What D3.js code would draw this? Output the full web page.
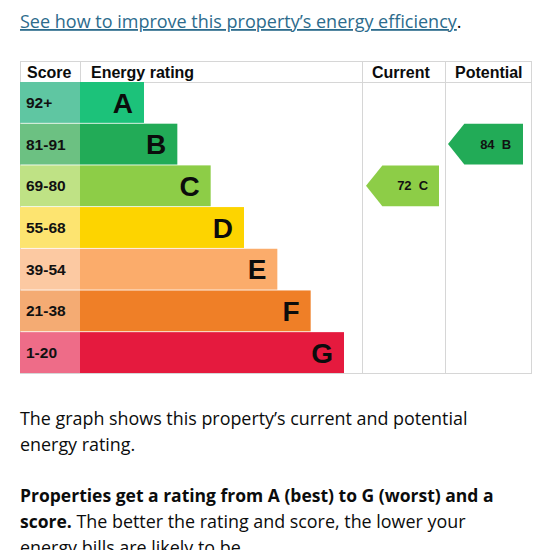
<!DOCTYPE html>
<html>
<head>
<meta charset="utf-8">
<script src="https://cdn.jsdelivr.net/npm/d3@7"></script>
<style>
    html, body { margin: 0; padding: 0; background: #fff; }
    svg { display: block; }
</style>
</head>
<body>
<div id="chart"></div>
<script>
// bands, best to worst
const bands = ['A', 'B', 'C', 'D', 'E', 'F', 'G'];
const scoreRanges = ['92+', '81-91', '69-80', '55-68', '39-54', '21-38', '1-20'];
const bandColors = ['#1cc27a', '#22ab57', '#8dcd47', '#fdd400', '#fbac6b', '#ef7f27', '#e51a3e'];
const scoreColors = ['#5fc6a2', '#6cc182', '#bfe285', '#fde470', '#fcc9a2', '#f4ab73', '#ee6c88'];

// ratings
const currentScore = 72;
const currentBand = 'C';
const potentialScore = 84;
const potentialBand = 'B';

const width = 550, height = 550;
const margin = { top: 61, left: 20, right: 19 };
const headerH = 21;
const rowsBottom = 373;
const scoreColW = 60;
const curX0 = 362, potX0 = 445, tableX1 = width - margin.right;

const svg = d3.select('#chart').append('svg')
    .attr('width', width)
    .attr('height', height);

// link line at the top
const link = svg.append('text')
    .attr('x', 20)
    .attr('y', 28)
    .style('font-family', 'Open Sans')
    .style('font-size', '18px')
    .style('fill', '#2c6b8c');
link.append('tspan')
    .style('text-decoration', 'underline')
    .text('See how to improve this property\u2019s energy efficiency');
link.append('tspan').style('fill', '#0b0c0c').text('.');

// row scale
const y = d3.scaleBand()
    .domain(bands)
    .range([margin.top + headerH, rowsBottom])
    .paddingInner(0.02);

// bar length grows by band
const barW = d3.scaleLinear()
    .domain([0, bands.length - 1])
    .range([64, 264]);

const barX0 = margin.left + scoreColW;

// table frame
const grid = svg.append('g').attr('class', 'grid')
    .style('stroke', '#d6d6d6')
    .style('fill', 'none');
grid.append('rect')
    .attr('x', margin.left + 0.5)
    .attr('y', margin.top + 0.5)
    .attr('width', tableX1 - margin.left)
    .attr('height', rowsBottom - margin.top);
grid.append('line')
    .attr('x1', margin.left).attr('x2', tableX1)
    .attr('y1', margin.top + headerH + 0.5).attr('y2', margin.top + headerH + 0.5);
[barX0, curX0, potX0].forEach(function(x, i) {
    grid.append('line')
        .attr('x1', x + 0.5).attr('x2', x + 0.5)
        .attr('y1', margin.top)
        .attr('y2', i == 0 ? margin.top + headerH : rowsBottom);
});

// header
const headers = [
    { t: 'Score', x: margin.left + 7 },
    { t: 'Energy rating', x: barX0 + 11 },
    { t: 'Current', x: curX0 + 10 },
    { t: 'Potential', x: potX0 + 10 }
];
svg.append('g').selectAll('text')
    .data(headers)
    .enter().append('text')
    .attr('x', d => d.x)
    .attr('y', margin.top + 17)
    .style('font-family', 'Liberation Sans')
    .style('font-weight', 'bold')
    .style('font-size', '16px')
    .style('fill', '#0b0c0c')
    .text(d => d.t);

// rows
const rows = svg.append('g').selectAll('g.row')
    .data(bands)
    .enter().append('g')
    .attr('class', 'row')
    .attr('transform', d => 'translate(0,' + y(d) + ')');

rows.append('rect')
    .attr('x', margin.left)
    .attr('width', scoreColW)
    .attr('height', y.bandwidth())
    .attr('fill', (d, i) => scoreColors[i]);

rows.append('rect')
    .attr('x', barX0)
    .attr('width', (d, i) => barW(i))
    .attr('height', y.bandwidth())
    .attr('fill', (d, i) => bandColors[i]);

rows.append('text')
    .attr('x', margin.left + 6)
    .attr('y', y.bandwidth() / 2)
    .attr('dy', '.36em')
    .style('font-family', 'Liberation Sans')
    .style('font-weight', 'bold')
    .style('font-size', '15.5px')
    .style('fill', '#111')
    .text((d, i) => scoreRanges[i]);

rows.append('text')
    .attr('x', (d, i) => barX0 + barW(i) - 11)
    .attr('y', y.bandwidth() / 2)
    .attr('dy', '.36em')
    .attr('text-anchor', 'end')
    .style('font-family', 'Liberation Sans')
    .style('font-weight', 'bold')
    .style('font-size', '28px')
    .style('fill', '#0b0c0c')
    .text(d => d);

// arrow markers for current / potential
function arrow(x0, x1, band, score) {
    const i = bands.indexOf(band);
    const top = y(band), h = y.bandwidth();
    const tip = h * 0.4;
    const g = svg.append('g');
    g.append('path')
        .attr('d', 'M' + x0 + ',' + (top + h / 2) +
            'L' + (x0 + tip) + ',' + top +
            'L' + x1 + ',' + top +
            'L' + x1 + ',' + (top + h) +
            'L' + (x0 + tip) + ',' + (top + h) + 'Z')
        .attr('fill', bandColors[i]);
    g.append('text')
        .attr('x', (x0 + tip + x1) / 2 + 2)
        .attr('y', top + h / 2)
        .attr('dy', '.36em')
        .attr('text-anchor', 'middle')
        .style('font-family', 'Liberation Sans')
        .style('font-weight', 'bold')
        .style('font-size', '13px')
        .style('fill', '#111')
        .attr('xml:space', 'preserve')
        .text(score + '  ' + band);
}
arrow(curX0 + 4, 439, currentBand, currentScore);
arrow(potX0 + 3, 523, potentialBand, potentialScore);

// text below the chart
const body = svg.append('g')
    .style('font-family', 'Open Sans')
    .style('font-size', '17.9px')
    .style('fill', '#0b0c0c');
body.append('text').attr('x', 20).attr('y', 425)
    .text('The graph shows this property\u2019s current and potential');
body.append('text').attr('x', 20).attr('y', 451)
    .text('energy rating.');
body.append('text').attr('x', 20).attr('y', 502)
    .style('font-weight', 'bold')
    .style('font-size', '17.5px')
    .text('Properties get a rating from A (best) to G (worst) and a');
const l4 = body.append('text').attr('x', 20).attr('y', 528);
l4.append('tspan').style('font-weight', 'bold').style('font-size', '17.5px').text('score.');
l4.append('tspan').text(' The better the rating and score, the lower your');
body.append('text').attr('x', 20).attr('y', 554)
    .text('energy bills are likely to be.');
</script>
</body>
</html>
